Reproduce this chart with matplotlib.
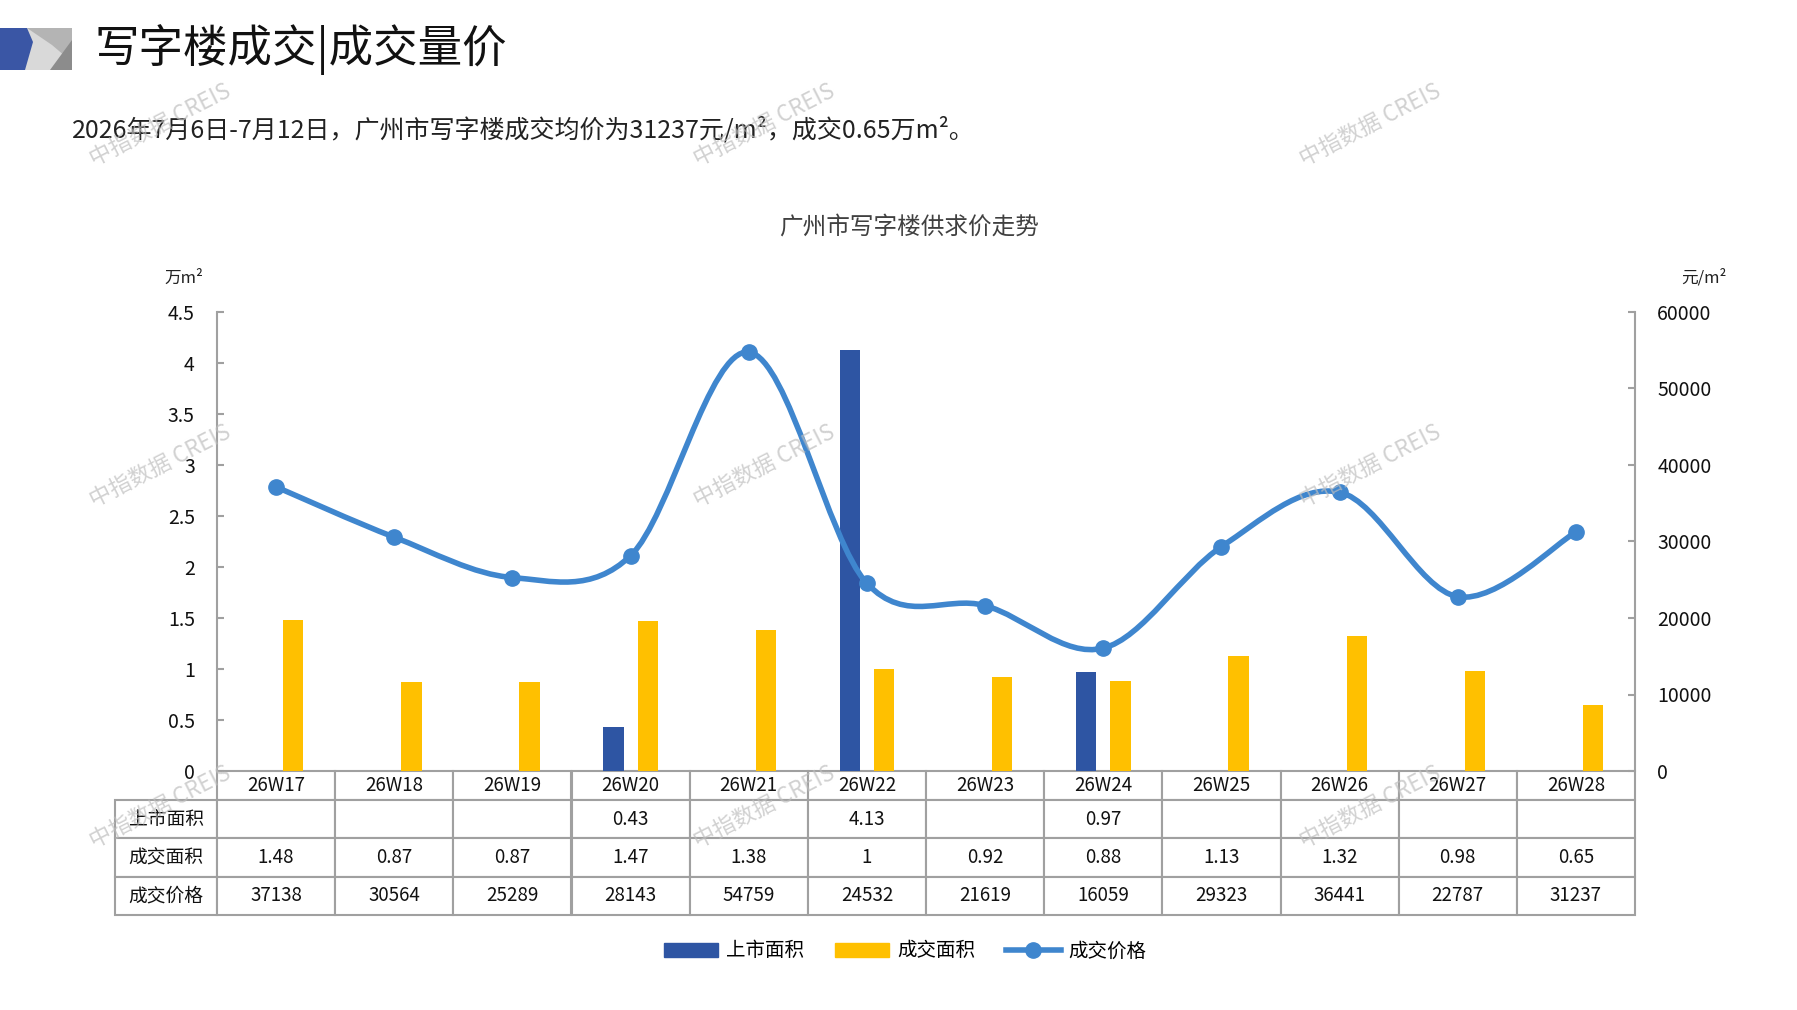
import numpy as np
import matplotlib
matplotlib.use("Agg")
import matplotlib.pyplot as plt
from matplotlib.path import Path
from matplotlib.patches import PathPatch, Polygon, Patch
from matplotlib.lines import Line2D
from matplotlib.ticker import MultipleLocator, FuncFormatter

plt.rcParams['font.family'] = ['Noto Sans CJK SC', 'DejaVu Sans']

W, H = 1797, 1010

weeks = ["26W17", "26W18", "26W19", "26W20", "26W21", "26W22",
         "26W23", "26W24", "26W25", "26W26", "26W27", "26W28"]
supply = [None, None, None, 0.43, None, 4.13, None, 0.97, None, None, None, None]
deal_area = [1.48, 0.87, 0.87, 1.47, 1.38, 1, 0.92, 0.88, 1.13, 1.32, 0.98, 0.65]
deal_price = [37138, 30564, 25289, 28143, 54759, 24532, 21619, 16059, 29323, 36441, 22787, 31237]
row_names = ["上市面积", "成交面积", "成交价格"]

title = "写字楼成交|成交量价"
subtitle = "2026年7月6日-7月12日，广州市写字楼成交均价为31237元/m²，成交0.65万m²。"
chart_title = "广州市写字楼供求价走势"

BLUE = "#2E55A3"
YELLOW = "#FFC000"
LINE = "#3F86CE"
GRID = "#A0A0A0"


def fx(px):
    return px / W


def fy(py):
    return 1 - py / H


def smooth_path(xs, ys):
    # catmull-rom style bezier, close to excel "smoothed line"
    pts = np.column_stack([xs, ys]).astype(float)
    ext = np.vstack([pts[0], pts, pts[-1]])
    verts = [tuple(pts[0])]
    codes = [Path.MOVETO]
    for i in range(len(pts) - 1):
        p0, p1, p2, p3 = ext[i], ext[i + 1], ext[i + 2], ext[i + 3]
        c1 = p1 + (p2 - p0) / 6
        c2 = p2 - (p3 - p1) / 6
        verts += [tuple(c1), tuple(c2), tuple(p2)]
        codes += [Path.CURVE4] * 3
    return Path(verts, codes)


fig = plt.figure(figsize=(W / 100, H / 100), dpi=100)

# logo
fig.add_artist(Polygon([(fx(0), fy(28)), (fx(72), fy(28)), (fx(72), fy(70)), (fx(0), fy(70))],
                       closed=True, transform=fig.transFigure, color="#D9D9D9", lw=0))
fig.add_artist(Polygon([(fx(27), fy(28)), (fx(72), fy(28)), (fx(72), fy(62)), (fx(52), fy(45))],
                       closed=True, transform=fig.transFigure, color="#B4B4B4", lw=0))
fig.add_artist(Polygon([(fx(72), fy(40)), (fx(72), fy(70)), (fx(50), fy(70))],
                       closed=True, transform=fig.transFigure, color="#8C8C8C", lw=0))
fig.add_artist(Polygon([(fx(0), fy(28)), (fx(27), fy(28)), (fx(33), fy(42)), (fx(25), fy(70)), (fx(0), fy(70))],
                       closed=True, transform=fig.transFigure, color="#3A56A5", lw=0))

fig.text(fx(95), fy(50), title, fontsize=32, va="center", ha="left", color="#111111")
fig.text(fx(72), fy(130), subtitle, fontsize=18, va="center", ha="left", color="#222222")
fig.text(fx(909), fy(227), chart_title, fontsize=17, va="center", ha="center", color="#404040")
fig.text(fx(164), fy(278), "万m²", fontsize=12, va="center", ha="left", color="#222222")
fig.text(fx(1681), fy(278), "元/m²", fontsize=12, va="center", ha="left", color="#222222")

ax = fig.add_axes([fx(217), fy(771), fx(1635) - fx(217), fy(312) - fy(771)])
ax2 = ax.twinx()

x = np.arange(len(weeks))
bw = 0.172
off = 0.145
sx = [i for i, v in enumerate(supply) if v is not None]
sv = [v for v in supply if v is not None]
ax.bar(np.array(sx) - off, sv, width=bw, color=BLUE, zorder=2)
ax.bar(x + off, deal_area, width=bw, color=YELLOW, zorder=2)

ax.set_xlim(-0.5, len(weeks) - 0.5)
ax.set_ylim(0, 4.5)
ax.yaxis.set_major_locator(MultipleLocator(0.5))
ax.yaxis.set_major_formatter(FuncFormatter(lambda v, p: "{:g}".format(v)))
ax.set_xticks([])

ax2.set_ylim(0, 60000)
ax2.yaxis.set_major_locator(MultipleLocator(10000))
ax2.yaxis.set_major_formatter(FuncFormatter(lambda v, p: "{:d}".format(int(v))))

ax2.add_patch(PathPatch(smooth_path(x, deal_price), facecolor="none", edgecolor=LINE,
                        lw=4, capstyle="round", zorder=3))
ax2.plot(x, deal_price, "o", color=LINE, markersize=11, zorder=4)

for a in (ax, ax2):
    for s in ("top", "bottom"):
        a.spines[s].set_visible(False)
    for s in ("left", "right"):
        a.spines[s].set_color(GRID)
        a.spines[s].set_linewidth(1.5)
    a.tick_params(axis="y", direction="in", length=5, width=1.5, color=GRID,
                  labelsize=14, labelcolor="#111111")
ax.tick_params(axis="y", pad=16)
ax2.tick_params(axis="y", pad=16)
ax.spines["right"].set_visible(False)
ax2.spines["left"].set_visible(False)

# data table under the chart
cell_text = []
cell_text.append([row_names[0]] + ["" if v is None else "{:g}".format(v) for v in supply])
cell_text.append([row_names[1]] + ["{:g}".format(v) for v in deal_area])
cell_text.append([row_names[2]] + [str(v) for v in deal_price])

ax_w = 1635 - 217
ax_h = 771 - 312
label_w = 102 / ax_w
col_w = 1 / len(weeks)
tbl = ax.table(cellText=cell_text, colLabels=[""] + weeks,
               colWidths=[label_w] + [col_w] * len(weeks),
               cellLoc="center", colLoc="center",
               bbox=[-label_w, -144 / ax_h, 1 + label_w, 144 / ax_h])
tbl.auto_set_font_size(False)
tbl.set_fontsize(13.5)
for (r, c), cell in tbl.get_celld().items():
    cell.set_edgecolor(GRID)
    cell.set_linewidth(1.5)
    cell.set_height(29 if r == 0 else 38)
    cell.get_text().set_color("#111111")
tbl[(0, 0)].visible_edges = "open"

# legend
handles = [Patch(color=BLUE, label="上市面积"),
           Patch(color=YELLOW, label="成交面积"),
           Line2D([], [], color=LINE, lw=4, marker="o", markersize=11, label="成交价格")]
fig.legend(handles=handles, loc="center", bbox_to_anchor=(fx(905), fy(951)), ncol=3,
           frameon=False, fontsize=14, handlelength=2.8, handletextpad=0.4,
           columnspacing=1.6)

# watermark
for wy in (125, 466, 807):
    for wx in (160, 764, 1370):
        fig.text(fx(wx), fy(wy), "中指数据 CREIS", fontsize=16, rotation=27,
                 color="#BEBEBE", alpha=0.7, ha="center", va="center", zorder=10)

fig.savefig("out.png", dpi=100)
